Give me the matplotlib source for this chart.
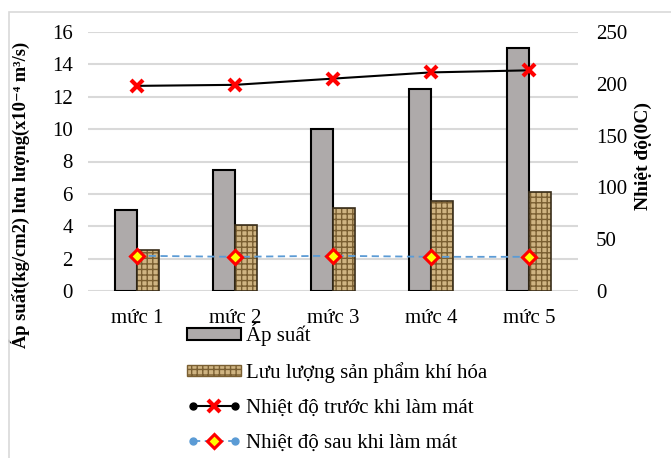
import matplotlib
matplotlib.use("Agg")
import matplotlib.pyplot as plt
from matplotlib.lines import Line2D
from matplotlib.patches import Patch, Rectangle
from matplotlib.legend_handler import HandlerLine2D, HandlerTuple
import numpy as np

plt.rcParams['font.family'] = ['Liberation Serif', 'DejaVu Serif']

levels = ["mức 1", "mức 2", "mức 3", "mức 4", "mức 5"]
ap_suat = [5, 7.5, 10, 12.5, 15]
luu_luong = [2.55, 4.1, 5.1, 5.55, 6.1]
nhiet_do_truoc = [198, 199, 205, 211, 213]
nhiet_do_sau = [34, 33, 34, 33, 33]

left_ticks = [0, 2, 4, 6, 8, 10, 12, 14, 16]
right_ticks = [0, 50, 100, 150, 200, 250]

fs = 15
gray = '#aeaaaa'
tan = '#cfb482'
weave = '#7a5f32'
blue = '#5b9bd5'

fig = plt.figure(figsize=(6.71, 4.58), dpi=100)
ax = fig.add_axes([88 / 671, 1 - 291 / 458, 490 / 671, 259 / 458])
ax2 = ax.twinx()

x = np.arange(len(levels))
w = 0.225
ax.bar(x - w / 2, ap_suat, w, color=gray, edgecolor='black', linewidth=1.5, zorder=2)
# woven texture for the flow-rate bars, then a dark outline on top
ax.bar(x + w / 2, luu_luong, w, color=tan, edgecolor=weave, hatch='+++',
       linewidth=0, zorder=2)
ax.bar(x + w / 2, luu_luong, w, fill=False, edgecolor='#3a2e1a', linewidth=1.2, zorder=3)

ax.set_xlim(-0.5, len(levels) - 0.5)
ax.set_ylim(0, 16)
ax.set_yticks(left_ticks)
ax.set_yticklabels([str(t) for t in left_ticks])
ax.set_xticks(x)
ax.set_xticklabels(levels)
ax.grid(axis='y', color='#d9d9d9', linewidth=1.5, zorder=0)
ax.set_axisbelow(True)
ax.tick_params(axis='y', length=0, pad=11, labelsize=fs)
ax.tick_params(axis='x', length=0, pad=13, labelsize=fs)
for s in ax.spines.values():
    s.set_visible(False)
ax.set_ylabel("Áp suất(kg/cm2) lưu lượng(x10⁻⁴ m³/s)", fontsize=13.3, fontweight='bold')
ax.yaxis.set_label_coords(-0.118, 0.37)

ax2.plot(x, nhiet_do_truoc, color='black', linewidth=1.5, marker='x', markersize=9,
         markeredgecolor='red', markeredgewidth=3, zorder=4)
ax2.plot(x, nhiet_do_sau, color=blue, linewidth=1.3, linestyle=(0, (4, 2.5)),
         marker='D', markersize=7, markerfacecolor='#ffff00', markeredgecolor='red',
         markeredgewidth=2.2, zorder=4)
ax2.set_ylim(0, 250)
ax2.set_yticks(right_ticks)
ax2.set_yticklabels([str(t) for t in right_ticks])
ax2.tick_params(axis='y', length=0, pad=13, labelsize=fs)
for s in ax2.spines.values():
    s.set_visible(False)
ax2.set_ylabel("Nhiệt độ(0C)", fontsize=14, fontweight='bold')
ax2.yaxis.set_label_coords(1.115, 0.521)

# legend handles: series line with end dots plus its marker in the middle
h_bar1 = Patch(facecolor=gray, edgecolor='black', linewidth=1.5)
h_bar2 = Patch(facecolor=tan, edgecolor=weave, hatch='+++', linewidth=1)
l1 = Line2D([], [], color='black', linewidth=1.5, marker='o', markersize=5,
            markerfacecolor='black', markeredgecolor='black')
m1 = Line2D([], [], linestyle='none', marker='x', markersize=9,
            markeredgecolor='red', markeredgewidth=3)
l2 = Line2D([], [], color=blue, linewidth=1.3, linestyle=(0, (4, 2.5)), marker='o',
            markersize=5, markerfacecolor=blue, markeredgecolor=blue)
m2 = Line2D([], [], linestyle='none', marker='D', markersize=7, markerfacecolor='#ffff00',
            markeredgecolor='red', markeredgewidth=2.2)

fig.legend([h_bar1, h_bar2, (l1, m1), (l2, m2)],
           ["Áp suất", "Lưu lượng sản phẩm khí hóa",
            "Nhiệt độ trước khi làm mát", "Nhiệt độ sau khi làm mát"],
           handler_map={tuple: HandlerTuple(ndivide=1),
                        l1: HandlerLine2D(numpoints=2), l2: HandlerLine2D(numpoints=2),
                        m1: HandlerLine2D(numpoints=1), m2: HandlerLine2D(numpoints=1)},
           loc='upper left', bbox_to_anchor=(187 / 671, 1 - 323 / 458),
           frameon=False, borderpad=0, borderaxespad=0, fontsize=fs,
           handlelength=2.6, handleheight=0.5, handletextpad=0.25, labelspacing=0.77)

fig.patches.append(Rectangle((9 / 671, -0.1), 1.2, (458 - 12) / 458 + 0.1,
                             transform=fig.transFigure, fill=False,
                             edgecolor='#d9d9d9', linewidth=1.2))

fig.savefig("out.png", dpi=100)
